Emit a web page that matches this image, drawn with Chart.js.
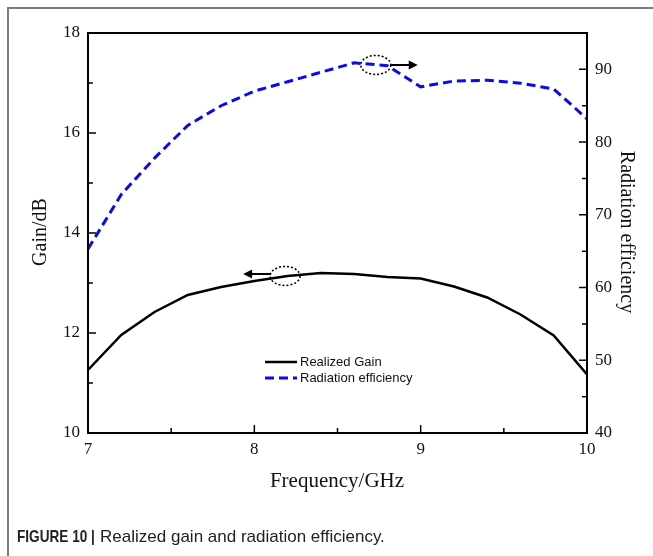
<!DOCTYPE html>
<html>
<head>
<meta charset="utf-8">
<script src="https://cdn.jsdelivr.net/npm/chart.js@4"></script>
<style>
    html, body { margin: 0; padding: 0; background: #fff; }
    #wrap { position: relative; width: 653px; height: 556px; overflow: hidden; }
    #frame { position: absolute; left: 7px; top: 7px; width: 700px; height: 600px;
             border-left: 2px solid #7d7d7d; border-top: 2px solid #7d7d7d; }
    canvas { position: absolute; left: 0; top: 0; }
    #caption { position: absolute; left: 17px; top: 527px; white-space: nowrap;
               font-family: "Liberation Sans", Arial, sans-serif; font-size: 17px; color: #222; }
    #caption .fig { display: inline-block; font-weight: bold; transform: scaleX(0.8);
                    transform-origin: left center; margin-right: -19px; }
</style>
</head>
<body>
<div id="wrap">
    <div id="frame"></div>
    <canvas id="chart" width="653" height="556"></canvas>
    <div id="caption"><span class="fig">FIGURE 10 |</span> Realized gain and radiation efficiency.</div>
</div>
<script>
// Data
const frequency = [7.0, 7.2, 7.4, 7.6, 7.8, 8.0, 8.2, 8.4, 8.6, 8.8, 9.0, 9.2, 9.4, 9.6, 9.8, 10.0];
const realizedGain = [11.26, 11.96, 12.42, 12.76, 12.92, 13.04, 13.14, 13.20, 13.18, 13.12, 13.09, 12.93, 12.71, 12.37, 11.95, 11.17];
const radiationEfficiency = [65.3, 72.8, 77.8, 82.3, 85.0, 87.0, 88.3, 89.6, 90.9, 90.5, 87.6, 88.4, 88.5, 88.1, 87.3, 83.2];

const freqLabels = [7, 8, 9, 10];
const gainLabels = [10, 12, 14, 16, 18];
const efficiencyLabels = [40, 50, 60, 70, 80, 90];

const serif = '"Liberation Serif", "Times New Roman", serif';
const sans = '"Liberation Sans", Arial, sans-serif';

function toPoints(ys) {
    return frequency.map((f, i) => ({ x: f, y: ys[i] }));
}

// Frame, inward ticks, axis titles, legend and the two marker ellipses
const decorPlugin = {
    id: 'decor',
    afterDraw(chart) {
        const ctx = chart.ctx;
        const area = chart.chartArea;
        const sx = chart.scales.x, sy = chart.scales.y, sy2 = chart.scales.y2;

        ctx.save();
        ctx.strokeStyle = '#000';
        ctx.lineWidth = 2;
        ctx.strokeRect(area.left, area.top, area.right - area.left, area.bottom - area.top);

        // tick marks pointing into the plot
        ctx.lineWidth = 1.5;
        ctx.beginPath();
        sx.ticks.forEach(t => {
            const px = sx.getPixelForValue(t.value);
            const len = freqLabels.includes(t.value) ? 8 : 5;
            ctx.moveTo(px, area.bottom);
            ctx.lineTo(px, area.bottom - len);
        });
        sy.ticks.forEach(t => {
            const py = sy.getPixelForValue(t.value);
            const len = gainLabels.includes(t.value) ? 8 : 5;
            ctx.moveTo(area.left, py);
            ctx.lineTo(area.left + len, py);
        });
        sy2.ticks.forEach(t => {
            if (t.value > 90) return;
            const py = sy2.getPixelForValue(t.value);
            const len = efficiencyLabels.includes(t.value) ? 8 : 5;
            ctx.moveTo(area.right, py);
            ctx.lineTo(area.right - len, py);
        });
        ctx.stroke();

        // axis titles
        ctx.fillStyle = '#111';
        ctx.textAlign = 'center';
        ctx.textBaseline = 'middle';
        ctx.font = '21px ' + serif;
        ctx.fillText('Frequency/GHz', 337, 481);

        ctx.font = '20px ' + serif;
        ctx.save();
        ctx.translate(41, 232);
        ctx.rotate(-Math.PI / 2);
        ctx.fillText('Gain/dB', 0, 0);
        ctx.restore();

        ctx.save();
        ctx.translate(626, 232);
        ctx.rotate(Math.PI / 2);
        ctx.fillText('Radiation efficiency', 0, 0);
        ctx.restore();

        // legend
        ctx.font = '13px ' + sans;
        ctx.textAlign = 'left';
        chart.data.datasets.forEach((ds, i) => {
            const y = 362 + i * 16;
            ctx.save();
            ctx.strokeStyle = ds.borderColor;
            ctx.lineWidth = ds.borderWidth;
            ctx.setLineDash(ds.borderDash || []);
            ctx.beginPath();
            ctx.moveTo(265, y);
            ctx.lineTo(297, y);
            ctx.stroke();
            ctx.restore();
            ctx.fillStyle = '#111';
            ctx.fillText(ds.label, 300, y);
        });

        // dotted ellipses with arrows pointing at each curve's axis
        function marker(cx, cy, dir, arrowDy) {
            ctx.save();
            ctx.strokeStyle = '#000';
            ctx.lineWidth = 1.5;
            ctx.setLineDash([2, 2]);
            ctx.beginPath();
            ctx.ellipse(cx, cy, 15, 9.5, 0, 0, Math.PI * 2);
            ctx.stroke();
            ctx.setLineDash([]);
            const y = cy + arrowDy;
            const x0 = cx + dir * 15;
            const x1 = cx + dir * 42;
            ctx.lineWidth = 2;
            ctx.beginPath();
            ctx.moveTo(x0, y);
            ctx.lineTo(x1 - dir * 6, y);
            ctx.stroke();
            ctx.fillStyle = '#000';
            ctx.beginPath();
            ctx.moveTo(x1, y);
            ctx.lineTo(x1 - dir * 9, y - 4.5);
            ctx.lineTo(x1 - dir * 9, y + 4.5);
            ctx.closePath();
            ctx.fill();
            ctx.restore();
        }
        marker(sx.getPixelForValue(8.185), sy.getPixelForValue(13.14), -1, -2);
        marker(sx.getPixelForValue(8.73), sy2.getPixelForValue(90.6), 1, 0);

        ctx.restore();
    }
};

const ctx = document.getElementById('chart').getContext('2d');
const chart = new Chart(ctx, {
    type: 'line',
    data: {
        datasets: [{
            label: 'Realized Gain',
            data: toPoints(realizedGain),
            borderColor: '#000000',
            borderWidth: 2.5,
            pointRadius: 0,
            tension: 0,
            yAxisID: 'y'
        }, {
            label: 'Radiation efficiency',
            data: toPoints(radiationEfficiency),
            borderColor: '#0a0af0',
            borderWidth: 3,
            borderDash: [9, 5],
            pointRadius: 0,
            tension: 0,
            yAxisID: 'y2'
        }]
    },
    options: {
        responsive: false,
        animation: false,
        devicePixelRatio: 1,
        layout: { padding: { top: 33, left: 0, right: 0, bottom: 0 } },
        plugins: {
            legend: { display: false },
            tooltip: { enabled: false }
        },
        scales: {
            x: {
                type: 'linear',
                min: 7,
                max: 10,
                grid: { display: false, drawTicks: false },
                border: { display: false },
                ticks: {
                    stepSize: 0.5,
                    autoSkip: false,
                    maxRotation: 0,
                    padding: 6,
                    color: '#111',
                    font: { family: serif, size: 17 },
                    callback: v => freqLabels.includes(v) ? String(v) : ''
                },
                afterFit: s => { s.height = 123; }
            },
            y: {
                position: 'left',
                min: 10,
                max: 18,
                grid: { display: false, drawTicks: false },
                border: { display: false },
                ticks: {
                    stepSize: 1,
                    autoSkip: false,
                    padding: 8,
                    color: '#111',
                    font: { family: serif, size: 17 },
                    callback: v => gainLabels.includes(v) ? String(v) : ''
                },
                afterFit: s => { s.width = 88; }
            },
            y2: {
                position: 'right',
                min: 40,
                max: 95,
                grid: { display: false, drawTicks: false },
                border: { display: false },
                ticks: {
                    stepSize: 5,
                    autoSkip: false,
                    padding: 8,
                    color: '#111',
                    font: { family: serif, size: 17 },
                    callback: v => efficiencyLabels.includes(v) ? String(v) : ''
                },
                afterFit: s => { s.width = 66; }
            }
        }
    },
    plugins: [decorPlugin]
});
</script>
</body>
</html>
